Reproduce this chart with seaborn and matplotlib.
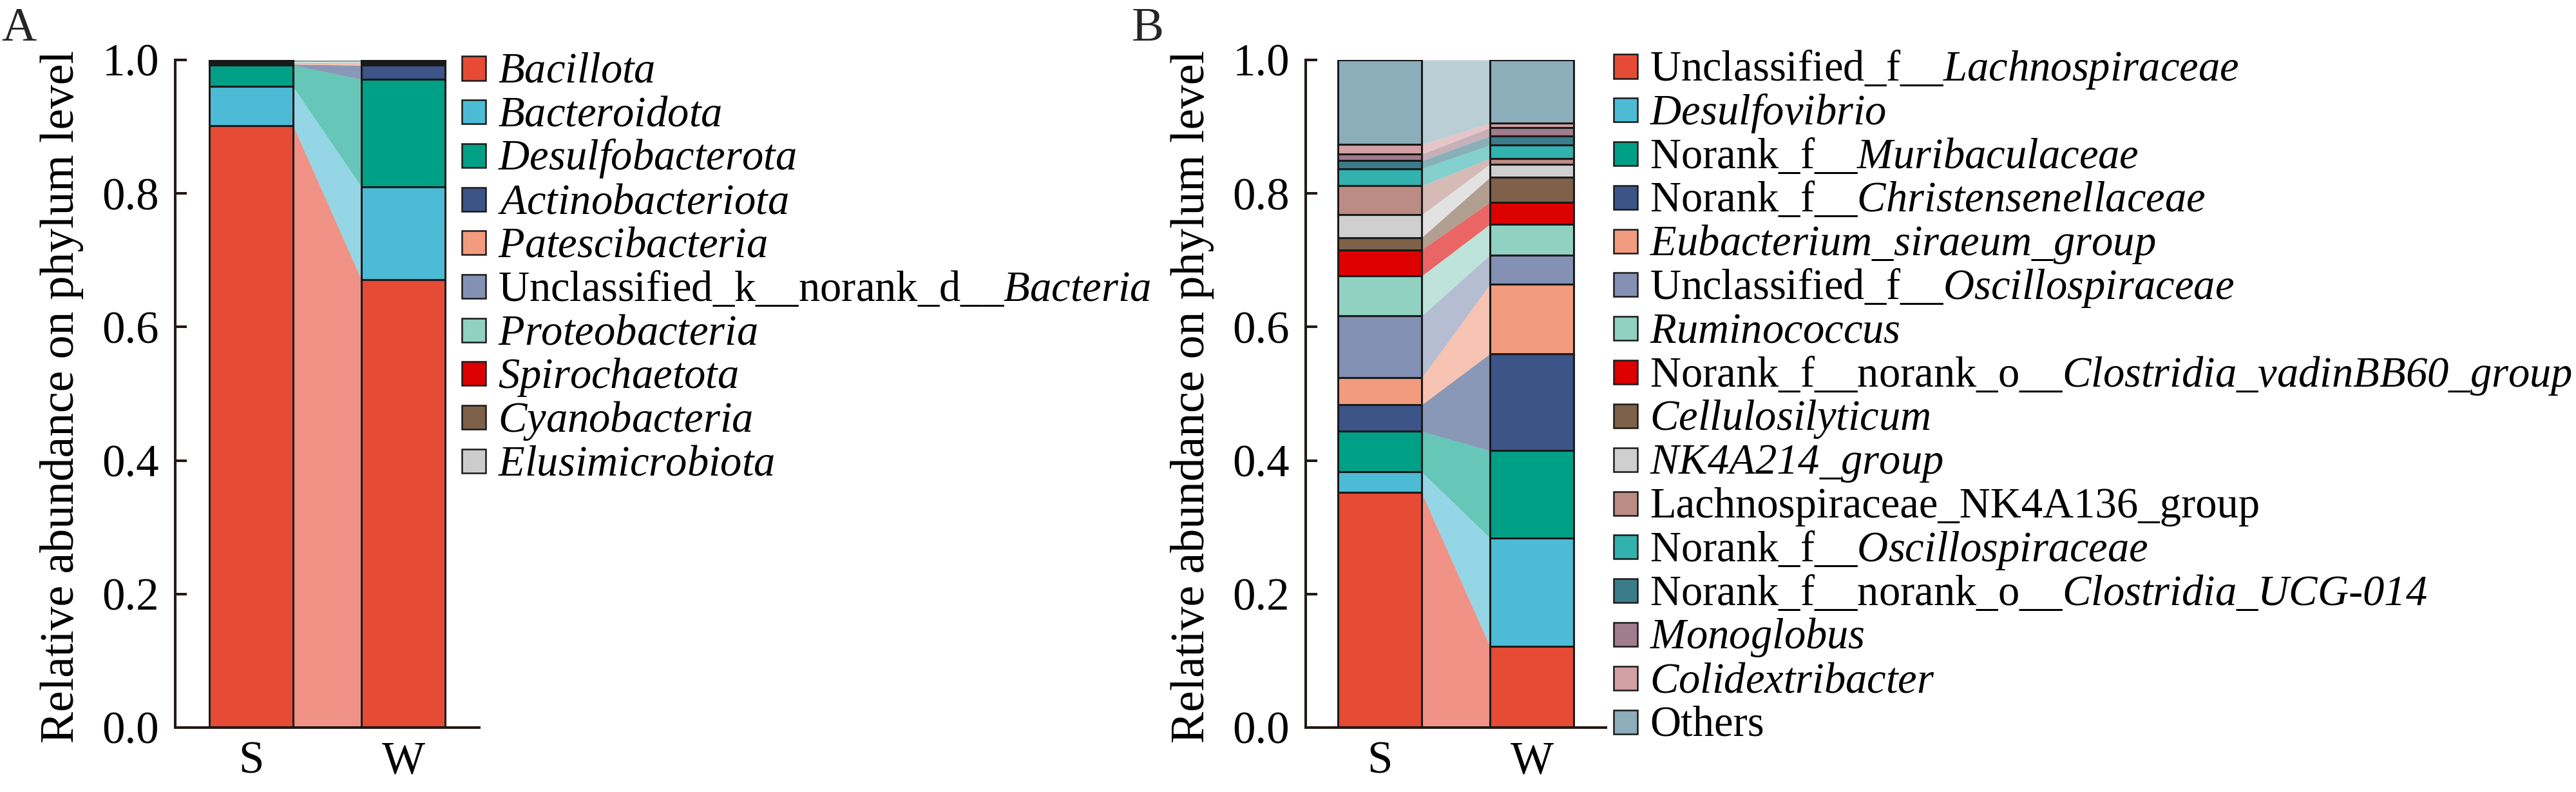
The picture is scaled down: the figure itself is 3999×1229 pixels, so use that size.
import numpy as np
import matplotlib.pyplot as plt
from matplotlib.patches import Rectangle
import seaborn as sns

# ---- data ----
# italic parts use \mathsf, which is mapped to the italic serif face below
# (so digits and underscores stay italic too)
groups = ['S', 'W']

phylum_names = [
    r'$\mathsf{Bacillota}$',
    r'$\mathsf{Bacteroidota}$',
    r'$\mathsf{Desulfobacterota}$',
    r'$\mathsf{Actinobacteriota}$',
    r'$\mathsf{Patescibacteria}$',
    r'Unclassified_k__norank_d__$\mathsf{Bacteria}$',
    r'$\mathsf{Proteobacteria}$',
    r'$\mathsf{Spirochaetota}$',
    r'$\mathsf{Cyanobacteria}$',
    r'$\mathsf{Elusimicrobiota}$',
]
phylum_s = [0.902, 0.058, 0.032, 0.0015, 0.001, 0.001, 0.0015, 0.001, 0.001, 0.001]
phylum_w = [0.671, 0.139, 0.161, 0.021, 0.003, 0.001, 0.001, 0.001, 0.001, 0.001]
phylum_colors = ['#E64B35', '#4DBBD5', '#00A087', '#3C5488', '#F39B7F',
                 '#8491B4', '#91D1C2', '#DC0000', '#7E6148', '#CCCCCC']

genus_names = [
    r'Unclassified_f__$\mathsf{Lachnospiraceae}$',
    r'$\mathsf{Desulfovibrio}$',
    r'Norank_f__$\mathsf{Muribaculaceae}$',
    r'Norank_f__$\mathsf{Christensenellaceae}$',
    r'$\mathsf{Eubacterium\_siraeum\_group}$',
    r'Unclassified_f__$\mathsf{Oscillospiraceae}$',
    r'$\mathsf{Ruminococcus}$',
    r'Norank_f__norank_o__$\mathsf{Clostridia\_vadinBB60\_group}$',
    r'$\mathsf{Cellulosilyticum}$',
    r'$\mathsf{NK4A214\_group}$',
    'Lachnospiraceae_NK4A136_group',
    r'Norank_f__$\mathsf{Oscillospiraceae}$',
    r'Norank_f__norank_o__$\mathsf{Clostridia\_UCG}$-$\mathsf{014}$',
    r'$\mathsf{Monoglobus}$',
    r'$\mathsf{Colidextribacter}$',
    'Others',
]
genus_s = [0.352, 0.031, 0.0606, 0.0399, 0.0402, 0.0928, 0.0599, 0.0393,
           0.0183, 0.034, 0.0435, 0.0257, 0.0118, 0.0098, 0.0145, 0.1267]
genus_w = [0.1215, 0.1625, 0.1306, 0.1454, 0.104, 0.044, 0.046, 0.033,
           0.0373, 0.0197, 0.0086, 0.0198, 0.0137, 0.0123, 0.007, 0.0946]
genus_colors = ['#E64B35', '#4DBBD5', '#00A087', '#3C5488', '#F39B7F',
                '#8491B4', '#91D1C2', '#DC0000', '#7E6148', '#CFCFCF',
                '#BC8C84', '#31B2AF', '#3B7C8B', '#A07C8D', '#D3A1A5', '#8CAEBB']

# ---- style ----
sns.set_theme(style='ticks')
plt.rcParams['font.family'] = ['Liberation Serif', 'DejaVu Serif']
plt.rcParams['mathtext.fontset'] = 'custom'
plt.rcParams['mathtext.rm'] = 'Liberation Serif'
plt.rcParams['mathtext.it'] = 'Liberation Serif:italic'
plt.rcParams['mathtext.sf'] = 'Liberation Serif:italic'
plt.rcParams['mathtext.bf'] = 'Liberation Serif:bold'

W_PX, H_PX = 3999, 1229
INK = '#231815'
EDGE = '#1a1a1a'
BAR_W = 0.55

fig = plt.figure(figsize=(W_PX / 100, H_PX / 100), dpi=100)
ax_a = fig.add_axes([272 / W_PX, 100 / H_PX, 472 / W_PX, 1036 / H_PX])
ax_b = fig.add_axes([2027 / W_PX, 100 / H_PX, 466 / W_PX, 1036 / H_PX])


def draw_panel(ax, s_vals, w_vals, colors, xlim, label_x):
    bottom = np.zeros(2)
    for vs, vw, c in zip(s_vals, w_vals, colors):
        vals = np.array([vs, vw])
        top = bottom + vals
        # flow band linking the same taxon in S and W
        ax.fill_between([BAR_W / 2, 1 - BAR_W / 2], bottom, top,
                        color=c, alpha=0.6, lw=0, zorder=1)
        sns.barplot(x=groups, y=vals, bottom=bottom, color=c, width=BAR_W,
                    saturation=1, edgecolor=EDGE, linewidth=2.2,
                    errorbar=None, ax=ax, zorder=2)
        bottom = top

    ax.set_xlim(*xlim)
    ax.set_ylim(0, 1)
    ax.set_yticks(np.arange(0, 1.01, 0.2))
    ax.set_yticklabels([f'{t:.1f}' for t in np.arange(0, 1.01, 0.2)])
    sns.despine(ax=ax)
    for side in ['left', 'bottom']:
        ax.spines[side].set_linewidth(2.9)
        ax.spines[side].set_color(INK)
    ax.tick_params(axis='y', direction='in', length=13, width=2.9, pad=18,
                   labelsize=51, color=INK, labelcolor='black')
    ax.tick_params(axis='x', direction='in', length=7, width=2.9, pad=15,
                   labelsize=51, color=INK, labelcolor='black')
    ax.set_xlabel('')
    ax.set_ylabel('Relative abundance on phylum level', fontsize=53, color='black')
    ax.yaxis.set_label_coords(label_x, 0.496)


def draw_legend(names, colors, x_box, y_first, step):
    box = 37
    for i, (name, c) in enumerate(zip(names, colors)):
        yc = y_first + i * step
        fig.add_artist(Rectangle((x_box / W_PX, 1 - (yc + box / 2) / H_PX),
                                 box / W_PX, box / H_PX,
                                 transform=fig.transFigure, facecolor=c,
                                 edgecolor=EDGE, lw=1.8))
        fig.text((x_box + box + 19) / W_PX, 1 - (yc + 22) / H_PX, name,
                 fontsize=48, ha='left', va='baseline', color='black')


draw_panel(ax_a, phylum_s, phylum_w, phylum_colors, (-0.5, 1.5), -0.301)
draw_panel(ax_b, genus_s, genus_w, genus_colors, (-0.488, 1.488), -0.305)

draw_legend(phylum_names, phylum_colors, 717, 106, 67.7)
draw_legend(genus_names, genus_colors, 2505, 103, 67.8)

fig.text(2 / W_PX, 1 - 63 / H_PX, 'A', fontsize=54, ha='left', va='baseline')
fig.text(1757 / W_PX, 1 - 63 / H_PX, 'B', fontsize=54, ha='left', va='baseline')

fig.savefig('out.png', dpi=100, facecolor='white')
